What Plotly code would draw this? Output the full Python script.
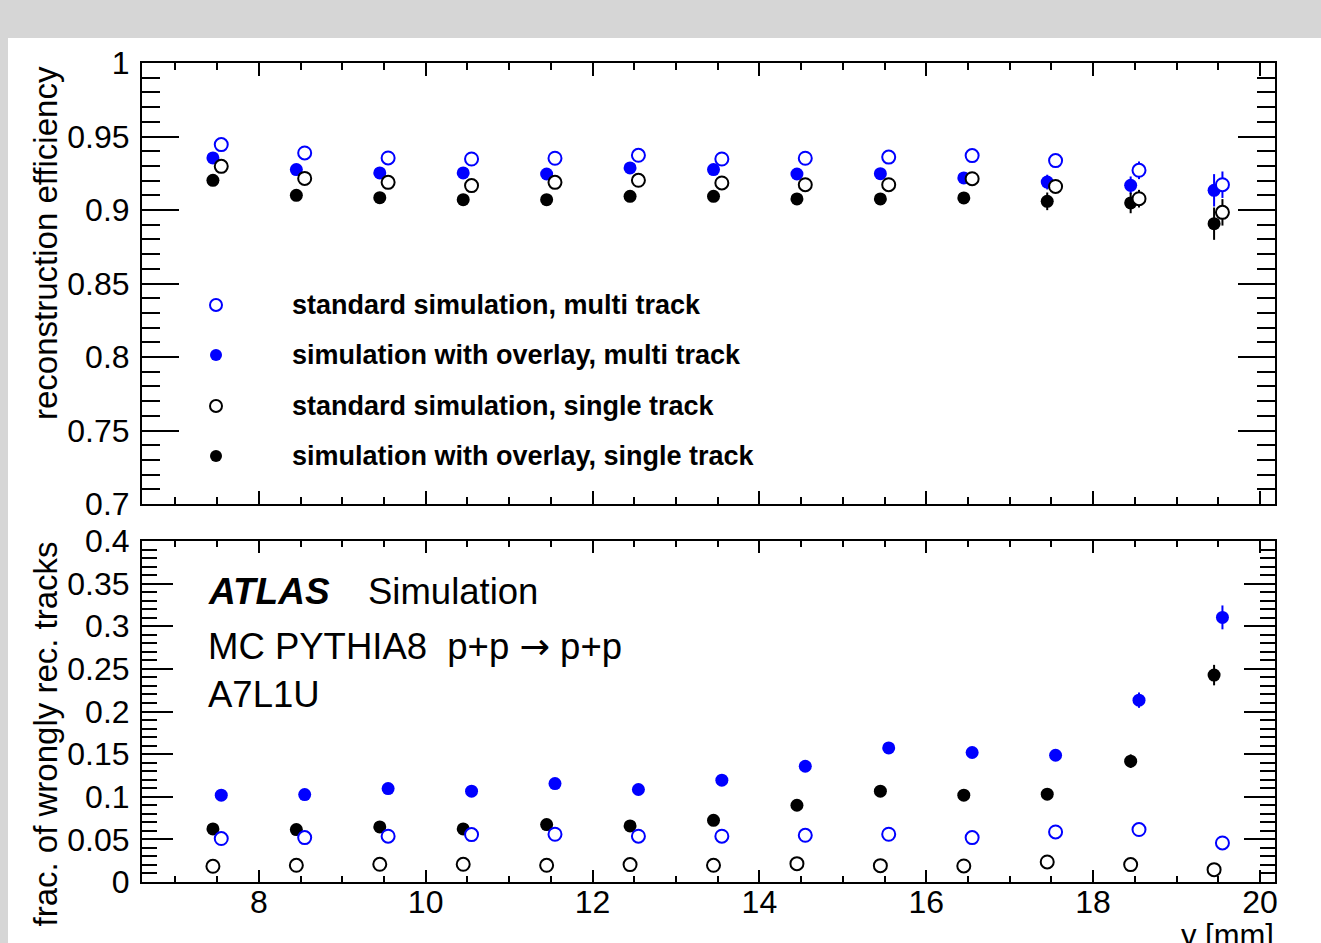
import plotly.graph_objects as go

# ---------------- data ----------------
bin_centers = [7.5, 8.5, 9.5, 10.5, 11.5, 12.5, 13.5, 14.5, 15.5, 16.5, 17.5, 18.5, 19.5]

# reconstruction efficiency (top panel)
eff_std_multi = [0.9445, 0.9388, 0.9354, 0.9347, 0.9352, 0.9372, 0.9347, 0.9352, 0.9360, 0.9370, 0.9336, 0.9270, 0.9172]
eff_std_multi_err = [0.0015, 0.0015, 0.0015, 0.0015, 0.0015, 0.0015, 0.0015, 0.0015, 0.0015, 0.002, 0.004, 0.006, 0.009]
eff_ovl_multi = [0.9354, 0.9275, 0.9252, 0.9252, 0.9245, 0.9286, 0.9275, 0.9245, 0.9247, 0.9218, 0.9190, 0.9168, 0.9134]
eff_ovl_multi_err = [0.002, 0.002, 0.002, 0.002, 0.002, 0.002, 0.002, 0.002, 0.002, 0.003, 0.005, 0.006, 0.011]
eff_std_single = [0.9297, 0.9215, 0.9188, 0.9166, 0.9188, 0.9202, 0.9184, 0.9172, 0.9172, 0.9213, 0.9160, 0.9077, 0.8984]
eff_std_single_err = [0.002, 0.002, 0.002, 0.002, 0.002, 0.002, 0.002, 0.002, 0.002, 0.002, 0.004, 0.006, 0.009]
eff_ovl_single = [0.9202, 0.9100, 0.9084, 0.9070, 0.9070, 0.9093, 0.9093, 0.9075, 0.9075, 0.9082, 0.9059, 0.9048, 0.8907]
eff_ovl_single_err = [0.002, 0.002, 0.002, 0.002, 0.002, 0.002, 0.002, 0.002, 0.002, 0.004, 0.006, 0.007, 0.011]

# fraction of wrongly reconstructed tracks (bottom panel)
wr_std_multi = [0.0510, 0.0521, 0.0537, 0.0556, 0.0560, 0.0537, 0.0537, 0.0548, 0.0560, 0.0521, 0.0587, 0.0615, 0.0458]
wr_std_multi_err = [0.001] * 10 + [0.002, 0.002, 0.003]
wr_ovl_multi = [0.1018, 0.1026, 0.1096, 0.1065, 0.1155, 0.1085, 0.1194, 0.1358, 0.1573, 0.1519, 0.1487, 0.2133, 0.3104]
wr_ovl_multi_err = [0.002, 0.002, 0.002, 0.002, 0.002, 0.002, 0.002, 0.003, 0.003, 0.003, 0.004, 0.009, 0.014]
wr_std_single = [0.0184, 0.0196, 0.0208, 0.0208, 0.0196, 0.0204, 0.0196, 0.0215, 0.0192, 0.0188, 0.0235, 0.0204, 0.0145]
wr_std_single_err = [0.001] * 10 + [0.002, 0.002, 0.003]
wr_ovl_single = [0.0622, 0.0615, 0.0646, 0.0622, 0.0674, 0.0658, 0.0724, 0.0900, 0.1065, 0.1018, 0.1030, 0.1417, 0.2427]
wr_ovl_single_err = [0.002, 0.002, 0.002, 0.002, 0.002, 0.002, 0.002, 0.003, 0.003, 0.003, 0.004, 0.008, 0.012]

series_names = ["standard simulation, multi track",
                "simulation with overlay, multi track",
                "standard simulation, single track",
                "simulation with overlay, single track"]

eff_ticks = [0.7, 0.75, 0.8, 0.85, 0.9, 0.95, 1.0]
eff_ticktext = ["0.7", "0.75", "0.8", "0.85", "0.9", "0.95", "1"]
wr_ticks = [0, 0.05, 0.1, 0.15, 0.2, 0.25, 0.3, 0.35, 0.4]
wr_ticktext = ["0", "0.05", "0.1", "0.15", "0.2", "0.25", "0.3", "0.35", "0.4"]
x_ticks = [8, 10, 12, 14, 16, 18, 20]
x_ticktext = ["8", "10", "12", "14", "16", "18", "20"]

# ---------------- layout geometry ----------------
W, H = 1321, 943
ML, MR, MT, MB = 142, 46, 63, 61
PW = W - ML - MR
PH = H - MT - MB


def px(xpix):
    return (xpix - ML) / PW


def py(ypix):
    return (H - MB - ypix) / PH


BLUE = "#0000ff"
BLACK = "#000000"
FONT = "Liberation Sans, Arial, Helvetica, sans-serif"

fig = go.Figure()


def add(xs, ys, errs, color, filled, xa, ya, name, dx):
    xx = [x + dx for x in xs]
    if filled:
        marker = dict(symbol="circle", size=13, color=color, line=dict(width=0))
    else:
        marker = dict(symbol="circle", size=13, color="white", line=dict(width=2, color=color))
    fig.add_trace(go.Scatter(
        x=xx, y=ys, mode="markers", name=name, showlegend=False,
        marker=marker,
        error_y=dict(type="data", array=errs, visible=True, color=color, thickness=2, width=0),
        xaxis=xa, yaxis=ya))


# top panel: filled at -0.05, open at +0.05
add(bin_centers, eff_ovl_multi, eff_ovl_multi_err, BLUE, True, "x", "y", series_names[1], -0.05)
add(bin_centers, eff_ovl_single, eff_ovl_single_err, BLACK, True, "x", "y", series_names[3], -0.05)
add(bin_centers, eff_std_multi, eff_std_multi_err, BLUE, False, "x", "y", series_names[0], 0.05)
add(bin_centers, eff_std_single, eff_std_single_err, BLACK, False, "x", "y", series_names[2], 0.05)

# bottom panel: blue at +0.05, black at -0.05
add(bin_centers, wr_ovl_multi, wr_ovl_multi_err, BLUE, True, "x2", "y2", series_names[1], 0.05)
add(bin_centers, wr_ovl_single, wr_ovl_single_err, BLACK, True, "x2", "y2", series_names[3], -0.05)
add(bin_centers, wr_std_multi, wr_std_multi_err, BLUE, False, "x2", "y2", series_names[0], 0.05)
add(bin_centers, wr_std_single, wr_std_single_err, BLACK, False, "x2", "y2", series_names[2], -0.05)

xrange = [6.6, 20.18]
top_dom = [py(504), 1.0]
bot_dom = [0.0, py(541)]

common_axis = dict(showline=True, linecolor=BLACK, linewidth=2, mirror="allticks",
                   ticks="inside", tickcolor=BLACK, tickwidth=2, showgrid=False,
                   zeroline=False, tickfont=dict(family=FONT, size=32, color=BLACK))

fig.update_layout(
    width=W, height=H,
    margin=dict(l=ML, r=MR, t=MT, b=MB, pad=0),
    paper_bgcolor="white", plot_bgcolor="white",
    showlegend=False,
    xaxis=dict(**common_axis, domain=[0, 1], range=xrange, anchor="y",
               tickvals=x_ticks, ticktext=x_ticktext, showticklabels=False, ticklen=13,
               minor=dict(dtick=0.5, tick0=0, ticklen=7, ticks="inside", tickcolor=BLACK, tickwidth=2)),
    yaxis=dict(**common_axis, domain=top_dom, range=[0.7, 1.0], anchor="x",
               tickvals=eff_ticks, ticktext=eff_ticktext, ticklen=37, ticklabelstandoff=4,
               minor=dict(dtick=0.01, tick0=0, ticklen=18, ticks="inside", tickcolor=BLACK, tickwidth=2)),
    xaxis2=dict(**common_axis, domain=[0, 1], range=xrange, anchor="y2",
                tickvals=x_ticks, ticktext=x_ticktext, ticklen=12, ticklabelstandoff=-9,
                minor=dict(dtick=0.5, tick0=0, ticklen=6, ticks="inside", tickcolor=BLACK, tickwidth=2)),
    yaxis2=dict(**common_axis, domain=bot_dom, range=[0, 0.4], anchor="x2",
                tickvals=wr_ticks, ticktext=wr_ticktext, ticklen=31, ticklabelstandoff=4,
                minor=dict(dtick=0.01, tick0=0, ticklen=15, ticks="inside", tickcolor=BLACK, tickwidth=2)),
)

# gray frame (window chrome around the canvas)
GRAY = "#d6d6d6"
fig.add_shape(type="rect", xref="paper", yref="paper", x0=px(0), x1=px(W), y0=py(38), y1=py(0),
              fillcolor=GRAY, line=dict(width=0), layer="below")
fig.add_shape(type="rect", xref="paper", yref="paper", x0=px(0), x1=px(8), y0=py(H), y1=py(38),
              fillcolor=GRAY, line=dict(width=0), layer="below")

# legend (custom, ROOT style)
leg_y = [305, 355, 406, 456]
leg_col = [BLUE, BLUE, BLACK, BLACK]
leg_fill = [False, True, False, True]
for name, yy, col, fl in zip(series_names, leg_y, leg_col, leg_fill):
    fig.add_shape(type="circle", xref="paper", yref="paper",
                  xsizemode="pixel", ysizemode="pixel",
                  xanchor=px(216), yanchor=py(yy), x0=-6, x1=6, y0=-6, y1=6,
                  fillcolor=col if fl else "white",
                  line=dict(color=col, width=0 if fl else 2))
    fig.add_annotation(xref="paper", yref="paper", x=px(290), y=py(yy),
                       xanchor="left", yanchor="middle", showarrow=False,
                       text="<b>" + name + "</b>",
                       font=dict(family=FONT, size=27, color=BLACK))

# ATLAS label
fig.add_annotation(xref="paper", yref="paper", x=px(206), y=py(592), xanchor="left", yanchor="middle",
                   showarrow=False, text="<b><i>ATLAS</i></b>", font=dict(family=FONT, size=37, color=BLACK))
fig.add_annotation(xref="paper", yref="paper", x=px(366), y=py(592), xanchor="left", yanchor="middle",
                   showarrow=False, text="Simulation", font=dict(family=FONT, size=36.5, color=BLACK))
fig.add_annotation(xref="paper", yref="paper", x=px(206), y=py(646), xanchor="left", yanchor="middle",
                   showarrow=False,
                   text="MC PYTHIA8\u00a0\u00a0p+p <span style=\"font-family:'DejaVu Sans'\">\u2192</span> p+p",
                   font=dict(family=FONT, size=36.5, color=BLACK))
fig.add_annotation(xref="paper", yref="paper", x=px(206), y=py(694), xanchor="left", yanchor="middle",
                   showarrow=False, text="A7L1U", font=dict(family=FONT, size=36.5, color=BLACK))

# axis titles (ROOT style: aligned to the axis end)
fig.add_annotation(xref="paper", yref="paper", x=px(45), y=py(64), xanchor="center", yanchor="top",
                   textangle=-90, showarrow=False, text="reconstruction efficiency",
                   font=dict(family=FONT, size=33, color=BLACK))
fig.add_annotation(xref="paper", yref="paper", x=px(45), y=py(540), xanchor="center", yanchor="top",
                   textangle=-90, showarrow=False, text="frac. of wrongly rec. tracks",
                   font=dict(family=FONT, size=33, color=BLACK))
fig.add_annotation(xref="paper", yref="paper", x=px(1276), y=py(935), xanchor="right", yanchor="middle",
                   showarrow=False, text="y [mm]", font=dict(family=FONT, size=31, color=BLACK))

fig.write_html("out.html")
